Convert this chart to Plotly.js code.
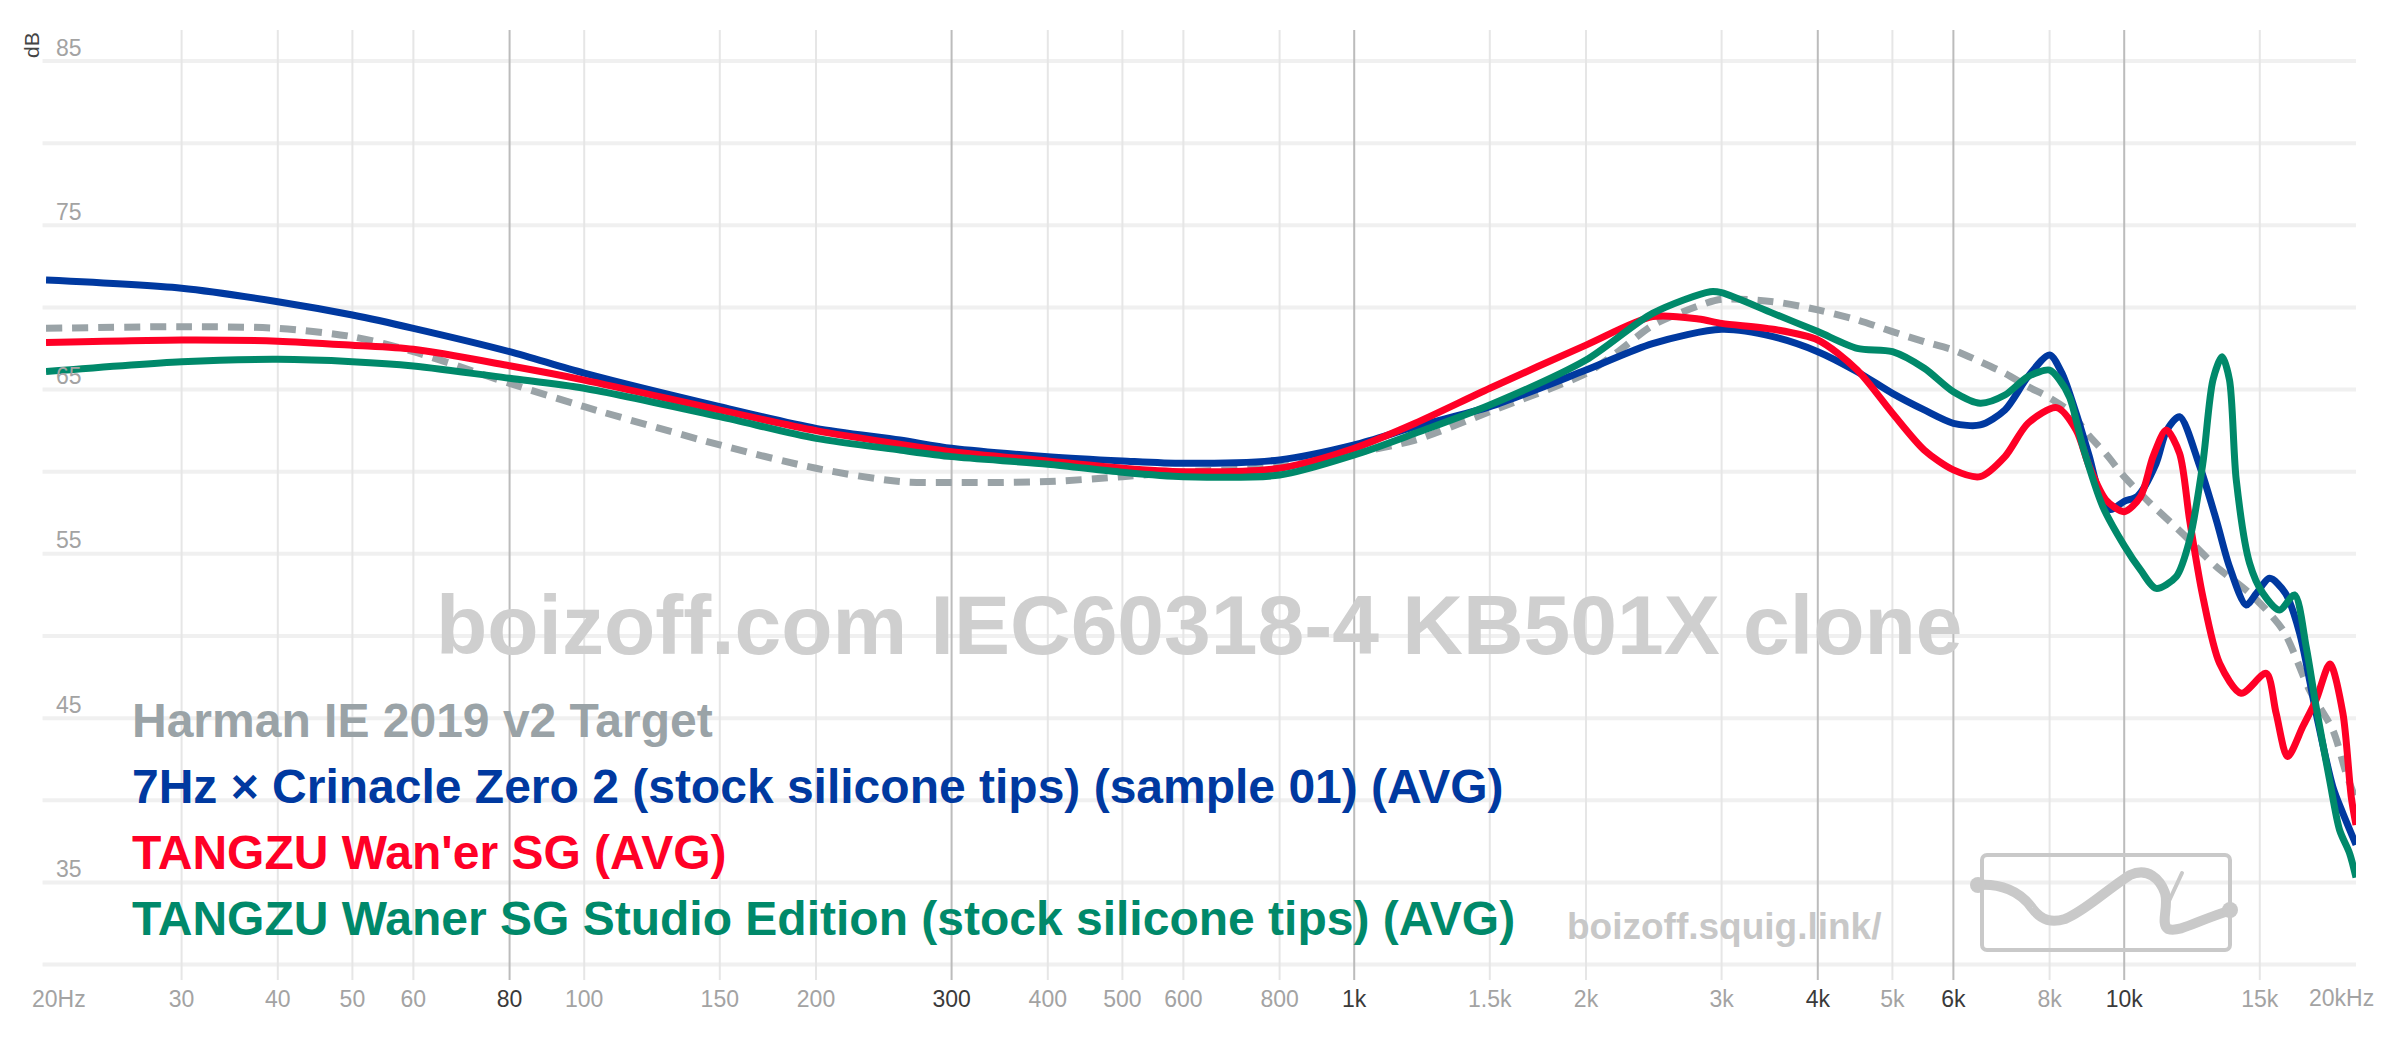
<!DOCTYPE html>
<html>
<head>
<meta charset="utf-8">
<script src="https://cdn.plot.ly/plotly-3.0.1.min.js"></script>
<style>
html,body{margin:0;padding:0;background:#fff;}
#chart{width:2400px;height:1038px;}
</style>
</head>
<body>
<div id="chart"></div>
<script>
// ---------- DATA ----------
const seriesNames = [
  "Harman IE 2019 v2 Target",
  "7Hz × Crinacle Zero 2 (stock silicone tips) (sample 01) (AVG)",
  "TANGZU Wan'er SG (AVG)",
  "TANGZU Waner SG Studio Edition (stock silicone tips) (AVG)"
];
const seriesColors = ["#9aa3a7", "#0039a0", "#ff0026", "#00896a"];

const targetFreq = [20,30,40,50,60,80,100,150,200,257,300,400,500,600,800,1000,1200,1500,2000,2200,2440,2800,3000,3500,4000,4500,5000,5500,6000,6500,7000,7500,8000,8500,9000,9500,10000,10800,11900,13170,14550,16070,17400,18660,19420,20000];
const targetDb   = [68.73,68.83,68.73,68.22,67.31,65.38,63.96,61.63,60.21,59.40,59.34,59.40,59.70,59.99,60.31,61.12,61.93,63.66,65.99,67.30,68.90,70.10,70.50,70.35,69.85,69.24,68.53,67.92,67.41,66.70,65.99,65.18,64.50,63.66,62.20,61.00,59.70,58.10,56.25,54.22,52.60,50.37,46.72,44.28,41.64,40.00];

const blueFreq = [20,30,40,50,60,80,100,150,200,257,300,400,500,600,800,1000,1200,1500,2000,2440,3000,3500,4000,4500,5000,5500,6000,6500,7000,7500,8000,8300,8600,9000,9300,9600,10000,10400,11000,11350,11800,12500,13170,13700,14400,14850,15450,16200,16900,17750,18660,19230,20000];
const blueDb   = [71.67,71.17,70.35,69.54,68.73,67.31,66.00,63.96,62.64,61.93,61.43,60.92,60.66,60.51,60.72,61.63,62.74,63.96,66.19,67.80,68.67,68.22,67.31,66.09,64.77,63.76,62.95,62.85,63.76,65.79,67.11,66.00,64.00,61.00,58.60,57.70,58.20,58.50,60.50,62.50,63.35,60.50,57.06,54.22,51.89,52.60,53.51,52.60,50.17,45.30,40.83,39.21,37.30];

const redFreq = [20,30,40,50,60,80,100,150,200,257,300,400,500,600,800,1000,1200,1500,2000,2440,2800,3000,3500,4000,4500,5000,5500,6000,6500,7000,7500,8170,8660,9010,9470,10000,10500,10900,11340,11800,12160,12650,13300,14190,15290,15750,16300,17060,17750,18500,19230,19716,20000];
const redDb   = [67.86,68.02,67.95,67.70,67.45,66.45,65.58,63.75,62.50,61.67,61.22,60.65,60.21,60.00,60.21,61.43,62.95,65.08,67.71,69.44,69.30,69.03,68.67,68.02,66.19,63.56,61.32,60.11,59.70,60.92,62.95,63.90,62.54,60.31,58.28,57.57,58.48,60.92,62.54,61.12,57.06,52.40,48.34,46.51,47.73,45.30,42.66,44.49,46.11,48.30,45.30,40.22,38.50];

const greenFreq = [20,30,40,50,60,80,100,150,200,257,300,400,500,600,800,1000,1200,1500,2000,2440,2900,3000,3500,4000,4500,5000,5500,6000,6500,7000,7500,8000,8240,8500,8840,9380,10000,10500,11000,11680,12160,12650,13040,13400,13700,13980,14550,15140,15910,16640,17230,17750,18480,19040,19620,20000];
const greenDb   = [66.10,66.70,66.84,66.70,66.44,65.69,65.08,63.35,62.03,61.32,60.92,60.46,59.97,59.70,59.80,61.02,62.34,64.06,66.80,69.64,70.96,70.90,69.64,68.53,67.51,67.31,66.30,64.87,64.17,64.67,65.79,66.19,65.60,64.50,61.50,57.88,55.50,54.02,52.90,53.61,55.85,60.51,65.59,67.00,65.59,59.50,54.43,52.60,51.58,52.50,49.35,45.70,41.24,38.20,36.77,35.30];

const xTickVals = [20,30,40,50,60,80,100,150,200,300,400,500,600,800,1000,1500,2000,3000,4000,5000,6000,8000,10000,15000,20000];
const xTickText = ["20Hz","30","40","50","60","80","100","150","200","300","400","500","600","800","1k","1.5k","2k","3k","4k","5k","6k","8k","10k","15k","20kHz"];
const xStrongTicks = [80,300,1000,4000,6000,10000];
const yTickVals = [35,45,55,65,75,85];
const yGridVals = [30,35,40,45,50,55,60,65,70,75,80,85];

const watermarkText = "boizoff.com IEC60318-4 KB501X clone";
const siteText = "boizoff.squig.link/";
const yAxisLabel = "dB";

// ---------- GEOMETRY ----------
const W = 2400, H = 1038;
const M = {l:46, r:44, t:30, b:58};
const plotW = W - M.l - M.r, plotH = H - M.t - M.b;
const xMin = 20, xMax = 20000;
const yRange = [29.06, 86.89];
const FONT = "Liberation Sans, Arial, Helvetica, sans-serif";
const px2paperX = px => (px - M.l) / plotW;
const px2paperY = py => (H - M.b - py) / plotH;
const f2paper = f => (Math.log10(f) - Math.log10(xMin)) / (Math.log10(xMax) - Math.log10(xMin));

// ---------- TRACES ----------
const seriesX = [targetFreq, blueFreq, redFreq, greenFreq];
const seriesY = [targetDb, blueDb, redDb, greenDb];
const traces = seriesNames.map((name, i) => ({
  type: "scatter",
  mode: "lines",
  name: name,
  x: seriesX[i],
  y: seriesY[i],
  line: {
    color: seriesColors[i],
    width: 7,
    shape: "spline",
    smoothing: 0.8,
    dash: i === 0 ? "16px,10px" : "solid"
  },
  hoverinfo: "skip"
}));

// ---------- GRID (shapes) ----------
const shapes = [];
yGridVals.forEach(v => {
  shapes.push({type:"line", xref:"paper", yref:"y", x0:-0.0015, x1:1, y0:v, y1:v,
    line:{color:"#f0f0f0", width:4}, layer:"below"});
});
xTickVals.filter(f => f > xMin && f < xMax).forEach(f => {
  const strong = xStrongTicks.includes(f);
  shapes.push({type:"line", xref:"paper", yref:"paper", x0:f2paper(f), x1:f2paper(f), y0:0, y1:1,
    line:{color: strong ? "#bcbcbc" : "#e6e6e6", width:2}, layer:"below"});
});

// ---------- TICK TEXT ----------
// the last label (at the right edge) is drawn as an annotation, nudged inward
const nb = n => "\u00a0".repeat(n);
const lastIdx = xTickText.length - 1;
const tickText = xTickText.map((t, i) => {
  if (i === lastIdx) return "";
  let s = t;
  if (xStrongTicks.includes(xTickVals[i])) s = '<span style="color:#3a3a3a">' + t + '</span>';
  if (i === 0) s = nb(4) + s;
  return s;
});

// ---------- ANNOTATIONS ----------
const annotations = [];
annotations.push({xref:"paper", yref:"paper", x:f2paper(xTickVals[lastIdx]), xshift:-15,
  y:px2paperY(998), xanchor:"center", yanchor:"middle", showarrow:false,
  text:xTickText[lastIdx], font:{family:FONT, size:23, color:"#a3a3a3"}});
yTickVals.forEach(v => {
  annotations.push({xref:"paper", yref:"y", x:px2paperX(54), y:v, yshift:13.5,
    xanchor:"left", yanchor:"middle", showarrow:false, text:String(v),
    font:{family:FONT, size:23, color:"#a3a3a3"}});
});
annotations.push({xref:"paper", yref:"paper", x:px2paperX(31), y:px2paperY(45),
  xanchor:"center", yanchor:"middle", showarrow:false, textangle:-90, text:yAxisLabel,
  font:{family:FONT, size:21, color:"#444"}});
annotations.push({xref:"paper", yref:"paper", x:px2paperX(1199), y:px2paperY(625),
  xanchor:"center", yanchor:"middle", showarrow:false, text:"<b>" + watermarkText + "</b>",
  font:{family:FONT, size:84, color:"#cfcfcf"}});
annotations.push({xref:"paper", yref:"paper", x:px2paperX(1724), y:px2paperY(926),
  xanchor:"center", yanchor:"middle", showarrow:false, text:"<b>" + siteText + "</b>",
  font:{family:FONT, size:37, color:"#c8c8c8"}});
const legendY = [720, 786, 852, 918];
seriesNames.forEach((name, i) => {
  annotations.push({xref:"paper", yref:"paper", x:px2paperX(130), y:px2paperY(legendY[i]),
    xanchor:"left", yanchor:"middle", showarrow:false, text:"<b>" + name + "</b>",
    font:{family:FONT, size:48, color:seriesColors[i]}});
});

// ---------- LOGO (decorative image) ----------
const logoSvg =
  '<svg xmlns="http://www.w3.org/2000/svg" width="272" height="109" viewBox="-10 -5 272 109">' +
  '<rect x="2" y="2" width="248" height="95" rx="5" ry="5" fill="none" stroke="#c9c9c9" stroke-width="4"/>' +
  '<path d="M -3 32 C 20 30, 40 38, 52 55 C 62 68, 72 70, 85 66 C 105 58, 125 38, 150 22 C 168 14, 180 26, 185 40 C 189 55, 180 70, 188 76 C 200 80, 220 66, 252 57" fill="none" stroke="#c9c9c9" stroke-width="10" stroke-linecap="round" stroke-linejoin="round"/>' +
  '<path d="M 189 48 L 202 20" fill="none" stroke="#c9c9c9" stroke-width="4" stroke-linecap="round"/>' +
  '<circle cx="-2" cy="32" r="8" fill="#c9c9c9"/><circle cx="250" cy="57" r="8" fill="#c9c9c9"/>' +
  '</svg>';
const images = [{
  source: "data:image/svg+xml;charset=utf-8," + encodeURIComponent(logoSvg),
  xref:"paper", yref:"paper",
  x: px2paperX(1970), y: px2paperY(848),
  sizex: 272 / plotW, sizey: 109 / plotH,
  xanchor:"left", yanchor:"top", sizing:"stretch", layer:"above"
}];

// ---------- LAYOUT ----------
const layout = {
  width: W, height: H,
  margin: M,
  paper_bgcolor: "#ffffff",
  plot_bgcolor: "#ffffff",
  showlegend: false,
  xaxis: {
    type: "log",
    range: [Math.log10(xMin), Math.log10(xMax)],
    tickmode: "array",
    tickvals: xTickVals,
    ticktext: tickText,
    tickfont: {family: FONT, size: 23, color: "#a3a3a3"},
    ticklabelstandoff: 3,
    ticks: "",
    showgrid: false, zeroline: false, showline: false,
    automargin: false, fixedrange: true
  },
  yaxis: {
    range: yRange,
    showticklabels: false,
    ticks: "",
    showgrid: false, zeroline: false, showline: false,
    automargin: false, fixedrange: true
  },
  shapes: shapes,
  annotations: annotations,
  images: images
};

Plotly.newPlot("chart", traces, layout, {staticPlot: true, displayModeBar: false});
</script>
</body>
</html>
